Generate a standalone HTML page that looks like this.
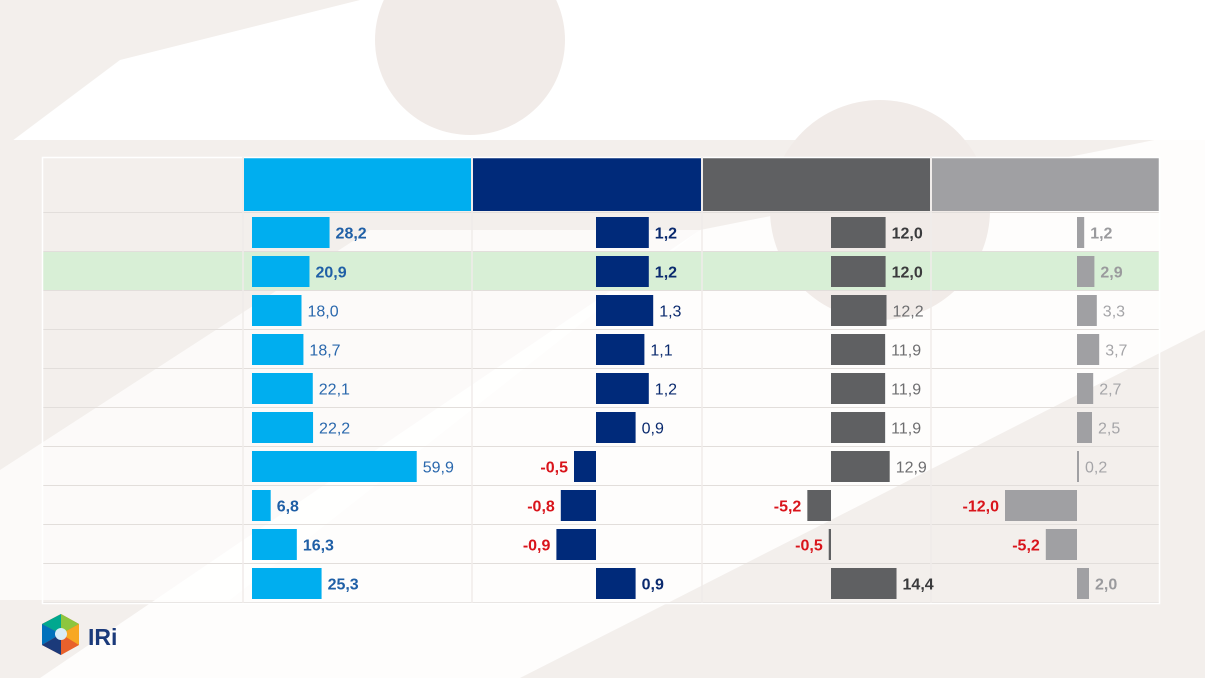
<!DOCTYPE html>
<html><head><meta charset="utf-8">
<style>
html,body{margin:0;padding:0;}
body{width:1205px;height:678px;overflow:hidden;background:#f3efec;font-family:"Liberation Sans",Arial,sans-serif;position:relative;}
#bg{position:absolute;left:0;top:0;}
#chart{position:absolute;left:0;top:0;}
</style></head>
<body>
<svg id="bg" width="1205" height="678">
  <rect width="1205" height="678" fill="#f3efec"/>
  <path d="M0 0 H1205 V140 H0 Z" fill="#ffffff"/>
  <path d="M0 150 L120 60 L360 0 L0 0 Z" fill="#f3efec"/>
  <circle cx="470" cy="40" r="95" fill="#f1ebe8"/>
  <path d="M40 678 L700 230 L1205 130 L1205 330 L520 678 Z" fill="#ffffff" opacity="0.85"/>
  <path d="M0 470 L370 230 L700 230 L230 600 L0 600 Z" fill="#ffffff" opacity="0.7"/>
  <circle cx="880" cy="210" r="110" fill="#f1ebe8"/>
</svg>
<svg id="chart" width="1205" height="678"></svg>
<script>
const categories=["row-1","row-2","row-3","row-4","row-5","row-6","row-7","row-8","row-9","row-10"];
const series1=[28.2,20.9,18.0,18.7,22.1,22.2,59.9,6.8,16.3,25.3];
const series2=[1.2,1.2,1.3,1.1,1.2,0.9,-0.5,-0.8,-0.9,0.9];
const series3=[12.0,12.0,12.2,11.9,11.9,11.9,12.9,-5.2,-0.5,14.4];
const series4=[1.2,2.9,3.3,3.7,2.7,2.5,0.2,-12.0,-5.2,2.0];
const boldRows=[true,true,false,false,false,false,false,true,true,true];

const NS="http://www.w3.org/2000/svg";
const svg=document.getElementById('chart');
function mk(tag,attrs,parent){const e=document.createElementNS(NS,tag);for(const k in attrs)e.setAttribute(k,attrs[k]);(parent||svg).appendChild(e);return e;}
const rowTop=213, rowH=39, barH=31;
function yRow(i){return rowTop+i*rowH;}
const fmt=v=>v.toFixed(1).replace('.',',');

// table header
const cols=[[244,471,"#00aeef"],[473,701,"#002a7a"],[703,930,"#5f6062"],[932,1160,"#a0a0a3"]];
cols.forEach((c,i)=>{const r=mk('rect',{x:c[0],y:157,width:c[1]-c[0],height:54,fill:c[2]});

});
// highlighted row
const hl=mk('rect',{x:42,y:yRow(1),width:1118,height:rowH,fill:"#d8efd6"});


// grid lines
for(let i=0;i<=categories.length;i++){const l=mk('line',{x1:42,x2:1160,y1:yRow(i)-0.5,y2:yRow(i)-0.5,stroke:"#e2dedb","stroke-width":1});

}
const ob=mk('rect',{x:42.5,y:157.5,width:1117,height:446,fill:"none",stroke:"#ffffff","stroke-width":1.5});


[243,472,702,931].forEach(x=>{const l=mk('line',{x1:x,x2:x,y1:157,y2:603,stroke:"#f0ecea","stroke-width":1.5});

});

const specs=[
 {data:series1,zero:252,scale:2.75,color:"#00aeef",pos:"#1f5fa6",posLight:"#2a68ad"},
 {data:series2,zero:596,scale:44,color:"#002a7a",pos:"#0a2a6e",posLight:"#0a2a6e"},
 {data:series3,zero:831,scale:4.55,color:"#5f6062",pos:"#3a3a3c",posLight:"#6e6e70"},
 {data:series4,zero:1077,scale:6,color:"#a0a0a3",pos:"#9a9a9d",posLight:"#a5a5a8"}
];
specs.forEach((s,si)=>{
 s.data.forEach((v,i)=>{
  const x=v>=0?s.zero:s.zero+v*s.scale;
  const w=Math.max(Math.abs(v)*s.scale,2);
  const y=yRow(i)+4;
  const b=mk('rect',{x:x,y:y,width:w,height:barH,fill:s.color});
  
  
  const bold=boldRows[i]||v<0;
  const t=mk('text',{y:y+barH/2+6,"font-size":16,"font-weight":bold?"bold":"normal",
    fill:v<0?"#d9141b":(bold?s.pos:s.posLight)});
  if(v>=0){t.setAttribute('x',s.zero+w+6);}
  else{t.setAttribute('x',x-6);t.setAttribute('text-anchor','end');}
  t.textContent=fmt(v);
  
  
 });
});

// logo
const g=mk('g',{});


mk('polygon',{points:"61,614 79,624 79,645 61,655 42,645 42,624",fill:"#e8612c"},g);
mk('polygon',{points:"61,614 79,624 61,634",fill:"#8dc63f"},g);
mk('polygon',{points:"61,614 42,624 61,634",fill:"#00a88f"},g);
mk('polygon',{points:"42,624 42,645 61,634",fill:"#0071bc"},g);
mk('polygon',{points:"42,645 61,655 61,634",fill:"#1b3a7a"},g);
mk('polygon',{points:"79,624 79,645 61,634",fill:"#f7a823"},g);
mk('circle',{cx:61,cy:634,r:6,fill:"#d9ecf7"},g);
const lt=mk('text',{x:88,y:645,"font-size":23,"font-weight":"bold",fill:"#1b3a7a"},g);
lt.textContent="IRi";
</script>
</body></html>
